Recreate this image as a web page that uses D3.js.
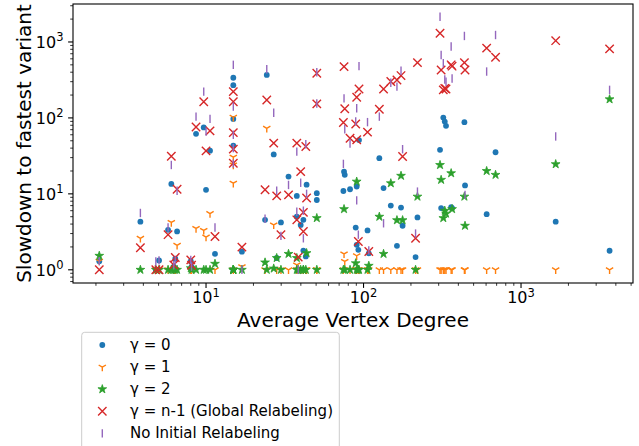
<!DOCTYPE html>
<meta charset="utf-8">
<html>
<script src="https://cdnjs.cloudflare.com/ajax/libs/d3/7.8.5/d3.min.js"></script>
<style>
body { margin: 0; background: #fff; }
svg { font-family: "DejaVu Sans", sans-serif; }
</style>
<body>
<svg id="chart" width="639" height="446"></svg>
<script>

// one entry per graph: average vertex degree, then slowdown of each variant
var degree    = [2.1, 3.83, 4.8, 5.03, 5.74, 6.02, 6.55, 6.38, 6.24, 8.0, 8.09, 8.64, 9.67, 10.0, 10.6, 11.4,
                 14.9, 14.9, 14.9, 14.9, 14.9, 16.9, 24.3, 23.7, 26.9, 28.1, 29.9, 33.4, 37.7, 37.7, 39.9, 43.5,
                 41.5, 41.5, 38.5, 43.0, 50.5, 50.5, 75.2, 76.0, 74.5, 82.1, 93.6, 90.5, 89.2, 90.5, 92.7, 106,
                 108, 126, 134, 149, 163, 173, 177, 220, 214, 306, 311, 321, 328, 334, 360, 365, 437, 441, 605,
                 689, 1660, 3650];
var gamma0    = [1.3, 4.3, 1.0, 1.33, 3.36, 13.5, 3.2, 1.4, 1.1, 1.3, 1.1, 61.7, 75, 11.3, 37, 1.62,
                 338, 270, 97, 43, 1.0, 1.73, 368, 4.55, 33, 1.43, 4.2, 16.9, 9.4, 5.0, 3.9, 13.2,
                 4.55, 1.79, 1.0, 1.5, 10.2, 8.3, 19.6, 17.8, 10.9, 11.5, 51, 12.5, 3.6, 2.13, 1.83, 3.3,
                 1.65, 29.5, 11.9, 7.0, 2.07, 6.6, 3.8, 4.9, 1.47, 38, 6.5, 101, 89.6, 78.6, 6.7, 6.5, 87.8, 12.9, 5.4,
                 35.3, 4.3, 1.78];
var gamma1    = [1.3, 2.6, 1.0, 1.0, 1.0, 4.2, 2.1, 1.0, 1.0, 1.0, 1.0, 3.5, 3.3, 2.7, 5.5, 1.0,
                 102, 30.4, 24, 13.8, 1.0, 1.1, 73, 1.0, 3.9, 1.0, 1.0, 1.0, 1.16, 1.0, 1.0, 1.0,
                 1.0, 1.0, 1.0, 1.0, 1.0, 1.0, 1.62, 1.29, 1.0, 1.0, 1.0, 1.53, 1.0, 1.0, 1.0, 1.0,
                 1.0, 1.0, 1.0, 1.0, 1.0, 1.0, 1.0, 1.0, 1.0, 1.0, 1.0, 1.0, 1.0, 1.0, 1.0, 1.0, 1.0, 1.0, 1.0,
                 1.0, 1.0, 1.0];
var gamma2    = [1.53, 1.0, 1.0, 1.0, 1.0, 1.0, 1.0, 1.0, 1.0, 1.05, 1.0, 1.0, 1.0, 1.0, 1.0, 1.2,
                 1.0, 1.0, 1.0, 1.0, 1.0, 1.0, 1.0, 1.25, 1.04, 1.43, 1.0, 1.62, 1.43, 1.0, 1.0, 1.66,
                 1.0, 1.0, 1.0, 1.0, 4.8, 1.0, 6.3, 1.0, 1.0, 1.0, 1.0, 14.5, 1.22, 1.0, 1.0, 1.0,
                 1.13, 5.0, 1.62, 13.8, 4.5, 17.3, 4.5, 9.2, 1.0, 24, 15.3, 4.8, 6.0, 5.5, 18.7, 6.3, 9.2, 3.8, 20,
                 17.8, 24.6, 176];
var gammaN    = [1.0, 1.95, 1.0, 1.0, 2.9, 31.3, 11.5, 1.45, 1.16, 1.35, 1.15, 76, 163, 36.8, 67.5, 2.74,
                 222, 163, 64, 38.8, 25.3, 1.99, 172, 11.3, 46.5, 9.4, 2.9, 9.7, 46.5, 4.55, 19.6, 8.8,
                 5.7, 3.2, 1.47, 42, 388, 153, 473, 132, 87, 54, 240, 187, 83, 51.5, 2.36, 65,
                 1.74, 130, 240, 302, 316, 361, 31, 534, 2.6, 1300, 428, 234, 245, 240, 500, 480, 534, 428, 830,
                 630, 1040, 811];
var noInitial = [1.3, 5.6, 1.29, 1.33, 3.6, 24, 11, 1.33, 1.15, 1.35, 1.1, 104, 222, 66, 97, 3.6,
                 500, 141, 60, 40, 25, 1.0, 437, 4.7, 117, 11, 2.8, 13.1, 36, 5.8, 14, 10,
                 6.0, 2.6, 1.0, 45, 400, 155, 181, 71, 24.8, 46, 480, 134, 90, 8.2, 2.9, 88,
                 1.8, 104, 4.1, 290, 258, 418, 38.7, 10.7, 3.0, 2150, 675, 525, 320, 300, 870, 331, 1200, 9.7, 408,
                 1235, 57, 234];

var seriesNames = ["γ = 0", "γ = 1", "γ = 2", "γ = n-1 (Global Relabeling)", "No Initial Relabeling"];
var seriesColors = ["#1f77b4", "#ff7f0e", "#2ca02c", "#d62728", "#9467bd"];
var xMajor = [10, 100, 1000];
var yMajor = [1, 10, 100, 1000];

var svg = d3.select("#chart");
var L = 73, R = 633, T = 4, B = 283;

var x = d3.scaleLog().domain([1.43, 5140]).range([L, R]);
var y = d3.scaleLog().domain([0.67, 3162]).range([B, T]);

// markers, matplotlib style: '.', '1', '*', 'x', '|'
function starPath(r) {
	var pts = [];
	for (var i = 0; i < 10; i++) {
		var a = -Math.PI / 2 + i * Math.PI / 5;
		var rr = i % 2 ? r * 0.382 : r;
		pts.push([(rr * Math.cos(a)).toFixed(2), (rr * Math.sin(a)).toFixed(2)]);
	}
	return "M" + pts.join("L") + "Z";
}
var s = 4.2;
var markerPaths = [
	null,
	"M0,0L0," + s + "M0,0L" + (-s * 0.866) + "," + (-s / 2) + "M0,0L" + (s * 0.866) + "," + (-s / 2),
	starPath(4.6),
	"M" + (-s) + "," + (-s) + "L" + s + "," + s + "M" + (-s) + "," + s + "L" + s + "," + (-s),
	"M0," + (-s) + "L0," + s
];

function drawMarker(g, k, cx, cy) {
	var c = seriesColors[k];
	if (k === 0) {
		g.append("circle").attr("cx", cx).attr("cy", cy).attr("r", 2.9).attr("fill", c);
	} else if (k === 2) {
		g.append("path").attr("d", markerPaths[k]).attr("transform", "translate(" + cx + "," + cy + ")")
			.attr("fill", c).attr("stroke", c).attr("stroke-width", 0.8);
	} else {
		g.append("path").attr("d", markerPaths[k]).attr("transform", "translate(" + cx + "," + cy + ")")
			.attr("fill", "none").attr("stroke", c).attr("stroke-width", 1.4);
	}
}

// axes ticks
var xMinor = [], yMinor = [];
[1, 10, 100, 1000].forEach(function(dec) {
	for (var k = 2; k <= 9; k++) {
		var v = k * dec;
		if (v > x.domain()[0] && v < x.domain()[1]) xMinor.push(v);
	}
});
[0.1, 1, 10, 100, 1000].forEach(function(dec) {
	for (var k = 2; k <= 9; k++) {
		var v = k * dec;
		if (v > y.domain()[0] && v < y.domain()[1]) yMinor.push(v);
	}
});

var axes = svg.append("g");
axes.selectAll("line.xmin").data(xMinor).enter().append("line")
	.attr("x1", function(d) { return x(d); }).attr("x2", function(d) { return x(d); })
	.attr("y1", B).attr("y2", B + 2.8).attr("stroke", "#000").attr("stroke-width", 0.8);
axes.selectAll("line.xmaj").data(xMajor).enter().append("line")
	.attr("x1", function(d) { return x(d); }).attr("x2", function(d) { return x(d); })
	.attr("y1", B).attr("y2", B + 4.9).attr("stroke", "#000").attr("stroke-width", 1.1);
axes.selectAll("line.ymin").data(yMinor).enter().append("line")
	.attr("y1", function(d) { return y(d); }).attr("y2", function(d) { return y(d); })
	.attr("x1", L).attr("x2", L - 2.8).attr("stroke", "#000").attr("stroke-width", 0.8);
axes.selectAll("line.ymaj").data(yMajor).enter().append("line")
	.attr("y1", function(d) { return y(d); }).attr("y2", function(d) { return y(d); })
	.attr("x1", L).attr("x2", L - 4.9).attr("stroke", "#000").attr("stroke-width", 1.1);

function powLabel(sel) {
	sel.append("tspan").text("10");
	sel.append("tspan").attr("dy", -6.6).attr("font-size", 11.5)
		.text(function(d) { return Math.round(Math.log10(d)); });
}
axes.selectAll("text.xl").data(xMajor).enter().append("text")
	.attr("x", function(d) { return x(d); }).attr("y", 303.3)
	.attr("text-anchor", "middle").attr("font-size", 16).attr("fill", "#000")
	.call(powLabel);
axes.selectAll("text.yl").data(yMajor).enter().append("text")
	.attr("x", 63.5).attr("y", function(d) { return y(d) + 6; })
	.attr("text-anchor", "end").attr("font-size", 16).attr("fill", "#000")
	.call(powLabel);

svg.append("text").attr("x", (L + R) / 2).attr("y", 327).attr("text-anchor", "middle")
	.attr("font-size", 20).text("Average Vertex Degree");
svg.append("text").attr("transform", "translate(30.5," + (T + B) / 2 + ") rotate(-90)")
	.attr("text-anchor", "middle").attr("font-size", 20).text("Slowdown to fastest variant");

// points
var series = [gamma0, gamma1, gamma2, gammaN, noInitial];
var pts = svg.append("g");
series.forEach(function(vals, k) {
	var g = pts.append("g");
	vals.forEach(function(v, i) {
		drawMarker(g, k, x(degree[i]), y(v));
	});
});

// frame
svg.append("rect").attr("x", L).attr("y", T).attr("width", R - L).attr("height", B - T)
	.attr("fill", "none").attr("stroke", "#000").attr("stroke-width", 1.1);

// legend
var leg = svg.append("g");
leg.append("rect").attr("x", 81.7).attr("y", 332.3).attr("width", 257.6).attr("height", 140)
	.attr("rx", 3).attr("fill", "#fff").attr("fill-opacity", 0.8)
	.attr("stroke", "#cccccc").attr("stroke-width", 1);
seriesNames.forEach(function(name, k) {
	var cy = 345 + k * 22.1;
	drawMarker(leg, k, 102.3, cy);
	leg.append("text").attr("x", 130).attr("y", cy + 4.8).attr("font-size", 15).text(name);
});

</script>
</body>
</html>
